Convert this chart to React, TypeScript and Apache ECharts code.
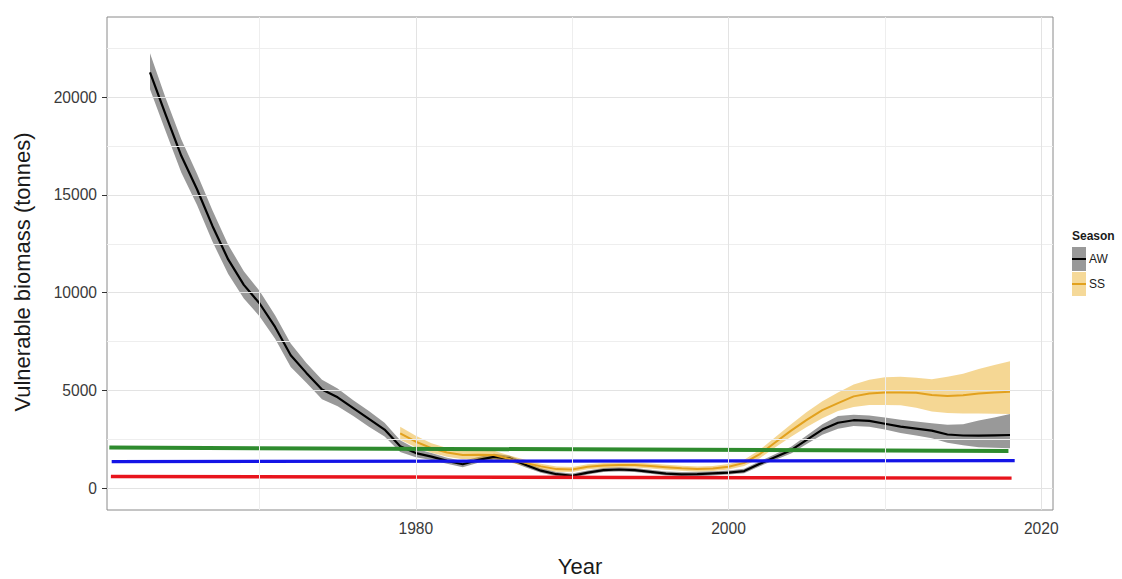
import React, { useEffect, useRef } from "react";
import * as echarts from "echarts";

const AW_YEARS = [1963,1964,1965,1966,1967,1968,1969,1970,1971,1972,1973,1974,1975,1976,1977,1978,1979,1980,1981,1982,1983,1984,1985,1986,1987,1988,1989,1990,1991,1992,1993,1994,1995,1996,1997,1998,1999,2000,2001,2002,2003,2004,2005,2006,2007,2008,2009,2010,2011,2012,2013,2014,2015,2016,2017,2018];
const AW_MEAN = [21270,19100,17000,15300,13400,11700,10400,9460,8250,6800,5900,5050,4650,4100,3550,3000,2150,1800,1620,1400,1230,1450,1610,1520,1200,900,720,640,800,930,960,930,840,750,716,725,760,800,880,1250,1600,1950,2475,3000,3350,3480,3450,3300,3150,3050,2950,2750,2700,2690,2710,2725];
const AW_LOWER = [20400,18250,16150,14500,12600,10950,9700,8800,7650,6200,5400,4550,4200,3700,3150,2650,1850,1590,1450,1250,1070,1300,1470,1380,1080,790,620,540,700,830,860,830,740,650,610,620,660,700,770,1130,1460,1780,2260,2740,3050,3180,3150,3000,2830,2700,2560,2330,2200,2100,2070,2045];
const AW_UPPER = [22240,19950,17850,16100,14200,12450,11100,10100,8850,7400,6400,5550,5100,4500,3950,3350,2450,2020,1800,1560,1400,1600,1760,1660,1330,1020,830,750,910,1040,1070,1040,950,860,830,840,870,910,1000,1380,1750,2130,2700,3280,3700,3760,3720,3620,3500,3420,3330,3250,3270,3470,3620,3800];

const SS_YEARS = [1979,1980,1981,1982,1983,1984,1985,1986,1987,1988,1989,1990,1991,1992,1993,1994,1995,1996,1997,1998,1999,2000,2001,2002,2003,2004,2005,2006,2007,2008,2009,2010,2011,2012,2013,2014,2015,2016,2017,2018];
const SS_MEAN = [2810,2380,2050,1830,1700,1710,1700,1500,1300,1120,980,960,1100,1160,1190,1190,1140,1074,1023,990,1010,1100,1300,1750,2350,2950,3500,4000,4350,4700,4850,4900,4900,4880,4770,4720,4760,4850,4900,4940];
const SS_LOWER = [2480,2100,1820,1610,1490,1500,1490,1320,1140,980,850,830,970,1030,1060,1060,1010,950,900,860,880,960,1140,1540,2100,2640,3130,3580,3950,4150,4260,4260,4250,4120,3930,3850,3830,3820,3810,3800];
const SS_UPPER = [3150,2680,2300,2060,1920,1930,1920,1680,1460,1260,1110,1090,1230,1290,1320,1320,1270,1200,1150,1120,1140,1240,1460,1970,2620,3280,3900,4450,4900,5300,5550,5680,5700,5650,5580,5700,5850,6100,6300,6500];

const GREEN_X = [1960.4, 2017.9];
const GREEN_Y = [2080, 1905];
const BLUE_X = [1960.55, 2018.3];
const BLUE_Y = [1365, 1410];
const RED_X = [1960.5, 2018.1];
const RED_Y = [600, 520];

const X_TICKS = [1980, 2000, 2020];
const X_MINOR = [1970, 1990, 2010];
const Y_TICKS = [0, 5000, 10000, 15000, 20000];
const Y_MINOR = [2500, 7500, 12500, 17500, 22500];

const FONT = "'Liberation Sans', Arial, Helvetica, sans-serif";

const pairs = (xs: number[], ys: number[]) => xs.map((x, i) => [x, ys[i]]);

const bandSeries = (years: number[], lower: number[], upper: number[], fill: string) => ({
  type: "custom",
  silent: true,
  data: years.map((y, i) => [y, lower[i], upper[i]]),
  encode: { x: 0, y: [1, 2] },
  renderItem: (params: any, api: any) => {
    if (params.dataIndex !== 0) return null;
    const pts: number[][] = [];
    for (let i = 0; i < years.length; i++) pts.push(api.coord([years[i], upper[i]]));
    for (let i = years.length - 1; i >= 0; i--) pts.push(api.coord([years[i], lower[i]]));
    return { type: "polygon", shape: { points: pts }, style: { fill, stroke: "none" } };
  },
});

export default function App() {
  const ref = useRef<HTMLDivElement>(null);
  useEffect(() => {
    if (!ref.current) return;
    const chart = echarts.init(ref.current, undefined, { renderer: "svg" });
    const gridLines = [
      ...Y_MINOR.map((v) => ({ yAxis: v, lineStyle: { color: "#eeeeee", width: 1, type: "solid" } })),
      ...X_MINOR.map((v) => ({ xAxis: v, lineStyle: { color: "#eeeeee", width: 1, type: "solid" } })),
      ...Y_TICKS.map((v) => ({ yAxis: v, lineStyle: { color: "#e3e3e3", width: 1, type: "solid" } })),
      ...X_TICKS.map((v) => ({ xAxis: v, lineStyle: { color: "#e3e3e3", width: 1, type: "solid" } })),
    ];
    const refLine = (xs: number[], ys: number[], color: string, width: number) => ({
      type: "line",
      data: pairs(xs, ys),
      symbol: "none",
      lineStyle: { color, width, cap: "butt" },
      silent: true,
    });
    chart.setOption({
      animation: false,
      backgroundColor: "#ffffff",
      grid: {
        left: 107,
        right: 69,
        top: 17,
        bottom: 69,
        show: true,
        borderColor: "#8a8a8a",
        borderWidth: 1,
        backgroundColor: "#ffffff",
      },
      xAxis: {
        type: "value",
        min: 1960.25,
        max: 2020.75,
        axisLine: { show: false },
        splitLine: { show: false },
        axisTick: { show: true, customValues: X_TICKS, length: 5, lineStyle: { color: "#333333" } },
        axisLabel: {
          customValues: X_TICKS,
          formatter: (v: number) => String(v),
          color: "#3a3a3a",
          fontSize: 15.6,
          fontFamily: FONT,
          margin: 10,
        },
      },
      yAxis: {
        type: "value",
        min: -1110,
        max: 24095,
        axisLine: { show: false },
        splitLine: { show: false },
        axisTick: { show: true, customValues: Y_TICKS, length: 5, lineStyle: { color: "#333333" } },
        axisLabel: {
          customValues: Y_TICKS,
          formatter: (v: number) => String(v),
          color: "#3a3a3a",
          fontSize: 15.6,
          fontFamily: FONT,
          margin: 10,
        },
      },
      series: [
        {
          type: "line",
          data: [[2000, 0]],
          symbol: "none",
          lineStyle: { opacity: 0 },
          silent: true,
          z: 1,
          markLine: {
            silent: true,
            symbol: ["none", "none"],
            label: { show: false },
            animation: false,
            data: gridLines,
          },
        },
        bandSeries(AW_YEARS, AW_LOWER, AW_UPPER, "#999999"),
        bandSeries(SS_YEARS, SS_LOWER, SS_UPPER, "rgba(232,160,0,0.42)"),
        {
          name: "AW",
          type: "line",
          data: pairs(AW_YEARS, AW_MEAN),
          symbol: "none",
          lineStyle: { color: "#000000", width: 2.2, join: "round" },
          silent: true,
        },
        {
          name: "SS",
          type: "line",
          data: pairs(SS_YEARS, SS_MEAN),
          symbol: "none",
          lineStyle: { color: "#E2A11E", width: 2, join: "round" },
          silent: true,
        },
        refLine(GREEN_X, GREEN_Y, "#2e8b2e", 4),
        refLine(BLUE_X, BLUE_Y, "#1414e6", 3.2),
        refLine(RED_X, RED_Y, "#e8141c", 3.4),
      ],
      graphic: [
        {
          type: "text",
          x: 22.5,
          y: 272,
          rotation: Math.PI / 2,
          style: {
            text: "Vulnerable biomass (tonnes)",
            fontSize: 22,
            fontFamily: FONT,
            fill: "#1a1a1a",
            textAlign: "center",
            textVerticalAlign: "middle",
          },
        },
        {
          type: "text",
          x: 580,
          y: 566,
          style: {
            text: "Year",
            fontSize: 22,
            fontFamily: FONT,
            fill: "#1a1a1a",
            textAlign: "center",
            textVerticalAlign: "middle",
          },
        },
        {
          type: "text",
          x: 1072,
          y: 236,
          style: {
            text: "Season",
            fontSize: 12,
            fontWeight: "bold",
            fontFamily: FONT,
            fill: "#1a1a1a",
            textAlign: "left",
            textVerticalAlign: "middle",
          },
        },
        { type: "rect", shape: { x: 1072, y: 247, width: 14, height: 24 }, style: { fill: "#999999" } },
        { type: "line", shape: { x1: 1072, y1: 259, x2: 1086, y2: 259 }, style: { stroke: "#000000", lineWidth: 2 } },
        { type: "rect", shape: { x: 1072, y: 272, width: 14, height: 24 }, style: { fill: "#F5D999" } },
        { type: "line", shape: { x1: 1072, y1: 284, x2: 1086, y2: 284 }, style: { stroke: "#E2A11E", lineWidth: 2 } },
        {
          type: "text",
          x: 1089,
          y: 259,
          style: { text: "AW", fontSize: 12, fontFamily: FONT, fill: "#1a1a1a", textAlign: "left", textVerticalAlign: "middle" },
        },
        {
          type: "text",
          x: 1089,
          y: 284,
          style: { text: "SS", fontSize: 12, fontFamily: FONT, fill: "#1a1a1a", textAlign: "left", textVerticalAlign: "middle" },
        },
      ],
    });
    return () => chart.dispose();
  }, []);
  return (
    <div
      ref={ref}
      style={{ position: "fixed", left: 0, top: 0, width: 1122, height: 579, background: "#ffffff" }}
    />
  );
}
